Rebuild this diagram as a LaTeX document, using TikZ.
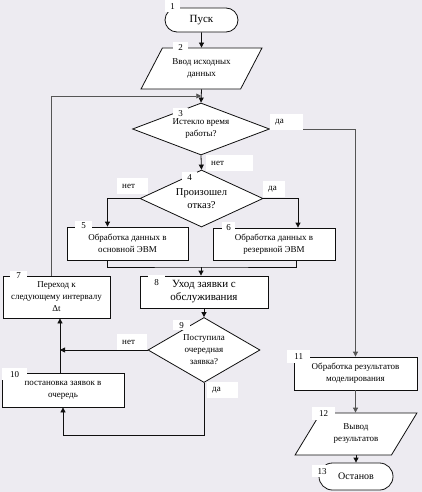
\documentclass[tikz,border=0pt]{standalone}
\usepackage{fontspec}
\setmainfont{Liberation Serif}
\usepackage{tikz}
\usetikzlibrary{arrows.meta, positioning, shapes.geometric, calc}
\definecolor{fbg}{RGB}{237, 235, 241}
\definecolor{fline}{RGB}{15, 15, 15}
\definecolor{fgray}{RGB}{85, 85, 85}

\begin{document}
\begin{tikzpicture}[x=1pt, y=-1pt,
    every node/.style={inner sep=0pt},
    box/.style={draw=fline, line width=0.8pt, fill=white,
      font=\fontsize{9}{12}\selectfont, align=center},
    proc/.style={box, rectangle},
    term/.style={box, rectangle, rounded corners=12pt},
    io/.style={box, trapezium, trapezium left angle=51,
      trapezium right angle=129, trapezium stretches=true},
    dec/.style={box, diamond},
    num/.style={fill=white, anchor=north west,
      font=\fontsize{9}{10}\selectfont},
    yn/.style={fill=white, anchor=north west, minimum height=16pt,
      inner xsep=5pt, align=left, font=\fontsize{9}{10}\selectfont},
    lnk/.style={draw=fline, line width=0.8pt},
    arr/.style={lnk, -{Triangle[length=5pt, width=5pt]}}]
    \useasboundingbox (0,0) rectangle (422,492);
    \fill[fbg] (0,0) rectangle (422,492);

    % --- blocks ---
    \node[term, minimum width=73pt, minimum height=24pt,
      font=\fontsize{11}{13}\selectfont] (n1) at (201.5,20) {Пуск};
    \node[io, minimum width=122pt, minimum height=41pt]
      (n2) at (201.5,68.5) {Ввод исходных\\данных};
    \node[dec, minimum width=137pt, minimum height=52pt, aspect=2.6]
      (n3) at (201,129) {Истекло время\\работы?};
    \node[dec, minimum width=123pt, minimum height=57pt, aspect=2.2,
      font=\fontsize{10.5}{13}\selectfont] (n4) at (201.5,198.5) {Произошел\\отказ?};
    \node[proc, minimum width=121pt, minimum height=33pt]
      (n5) at (127.5,243.5) {Обработка данных в\\основной ЭВМ};
    \node[proc, minimum width=122pt, minimum height=32pt]
      (n6) at (274,244) {Обработка данных в\\резервной ЭВМ};
    \node[proc, minimum width=107pt, minimum height=42pt]
      (n7) at (56.5,297) {Переход к\\следующему интервалу\\Δt};
    \node[proc, minimum width=128pt, minimum height=32pt,
      font=\fontsize{11}{13}\selectfont] (n8) at (204,292) {Уход заявки с\\обслуживания};
    \node[dec, minimum width=112pt, minimum height=65pt, aspect=1.7]
      (n9) at (204,350) {Поступила\\очередная\\заявка?};
    \node[proc, minimum width=122pt, minimum height=34pt]
      (n10) at (63,390) {постановка заявок в\\очередь};
    \node[proc, minimum width=123pt, minimum height=33pt]
      (n11) at (355.5,373.5) {Обработка результатов\\моделирования};
    \node[io, minimum width=122pt, minimum height=42pt]
      (n12) at (356,434) {Вывод\\результатов};
    \node[term, minimum width=74pt, minimum height=27pt, rounded corners=13.5pt,
      font=\fontsize{10}{12}\selectfont] (n13) at (356,476.5) {Останов};

    % --- connectors ---
    \coordinate (loopin) at ($(n2.south)!0.5!(n3.north)$);
    \coordinate (merge) at (201,267);
    \coordinate (up) at ([xshift=-3pt]n10.north);
    \draw[arr] (n1.south) -- (n2.north);
    \draw[arr] (n2.south) -- (n3.north);
    \draw[arr, draw=fgray] ([xshift=-5pt]n7.north) |- (loopin);
    \draw[arr, draw=fgray] (n3.east) -| (n11.north);
    \draw[arr] (n3.south) -- (n4.north);
    \draw[arr] (n4.west) -| ([xshift=-20pt]n5.north);
    \draw[arr] (n4.east) -| ([xshift=24pt]n6.north);
    \draw[lnk] ([xshift=-20pt]n5.south) |- (merge) -| ([xshift=22pt]n6.south);
    \draw[arr] (merge) -- (merge |- n8.north);
    \draw[arr] (n8.south) -- (n9.north);
    \draw[arr] (up) -- (up |- n7.south);
    \draw[arr] (n9.west) -- (n9.west -| up);
    \draw[arr] (n9.south) -- ++(0,52) -| (n10.south);
    \draw[arr, draw=fgray] (n11.south) -- (n11.south |- n12.north);
    \draw[arr] (n13.north |- n12.south) -- (n13.north);

    % --- yes / no ---
    \node[yn, text width=23pt] (y3) at (270,114) {да};
    \node[yn, text width=37pt] (x3) at (206,155) {нет};
    \node[yn, text width=21pt] (x4) at (117,178) {нет};
    \node[yn, text width=12pt] (y4) at (263,181) {да};
    \node[yn, text width=20pt] (x9) at (117,334) {нет};
    \node[yn, text width=21pt] (y9) at (207,382) {да};

    % --- block numbers ---
    \node[num, minimum width=15pt, minimum height=12pt] (l1) at (165,0) {1};
    \node[num, minimum width=15pt, minimum height=11pt] (l2) at (173,42) {2};
    \node[num, minimum width=15pt, minimum height=10pt] (l3) at (173,108) {3};
    \node[num, minimum width=15pt, minimum height=10pt] (l4) at (182,172) {4};
    \node[num, minimum width=17pt, minimum height=9pt] (l5) at (75,221) {5};
    \node[num, minimum width=13pt, minimum height=11pt] (l6) at (222,222) {6};
    \node[num, minimum width=17pt, minimum height=9pt] (l7) at (10,271) {7};
    \node[num, minimum width=17pt, minimum height=14pt] (l8) at (148,275) {8};
    \node[num, minimum width=17pt, minimum height=10pt] (l9) at (173,320) {9};
    \node[num, minimum width=25pt, minimum height=12pt] (l10) at (2,368) {10};
    \node[num, minimum width=23pt, minimum height=13pt] (l11) at (287,350) {11};
    \node[num, minimum width=23pt, minimum height=13pt] (l12) at (312,407) {12};
    \node[num, minimum width=20pt, minimum height=12pt] (l13) at (312,465) {13};
\end{tikzpicture}
\end{document}
